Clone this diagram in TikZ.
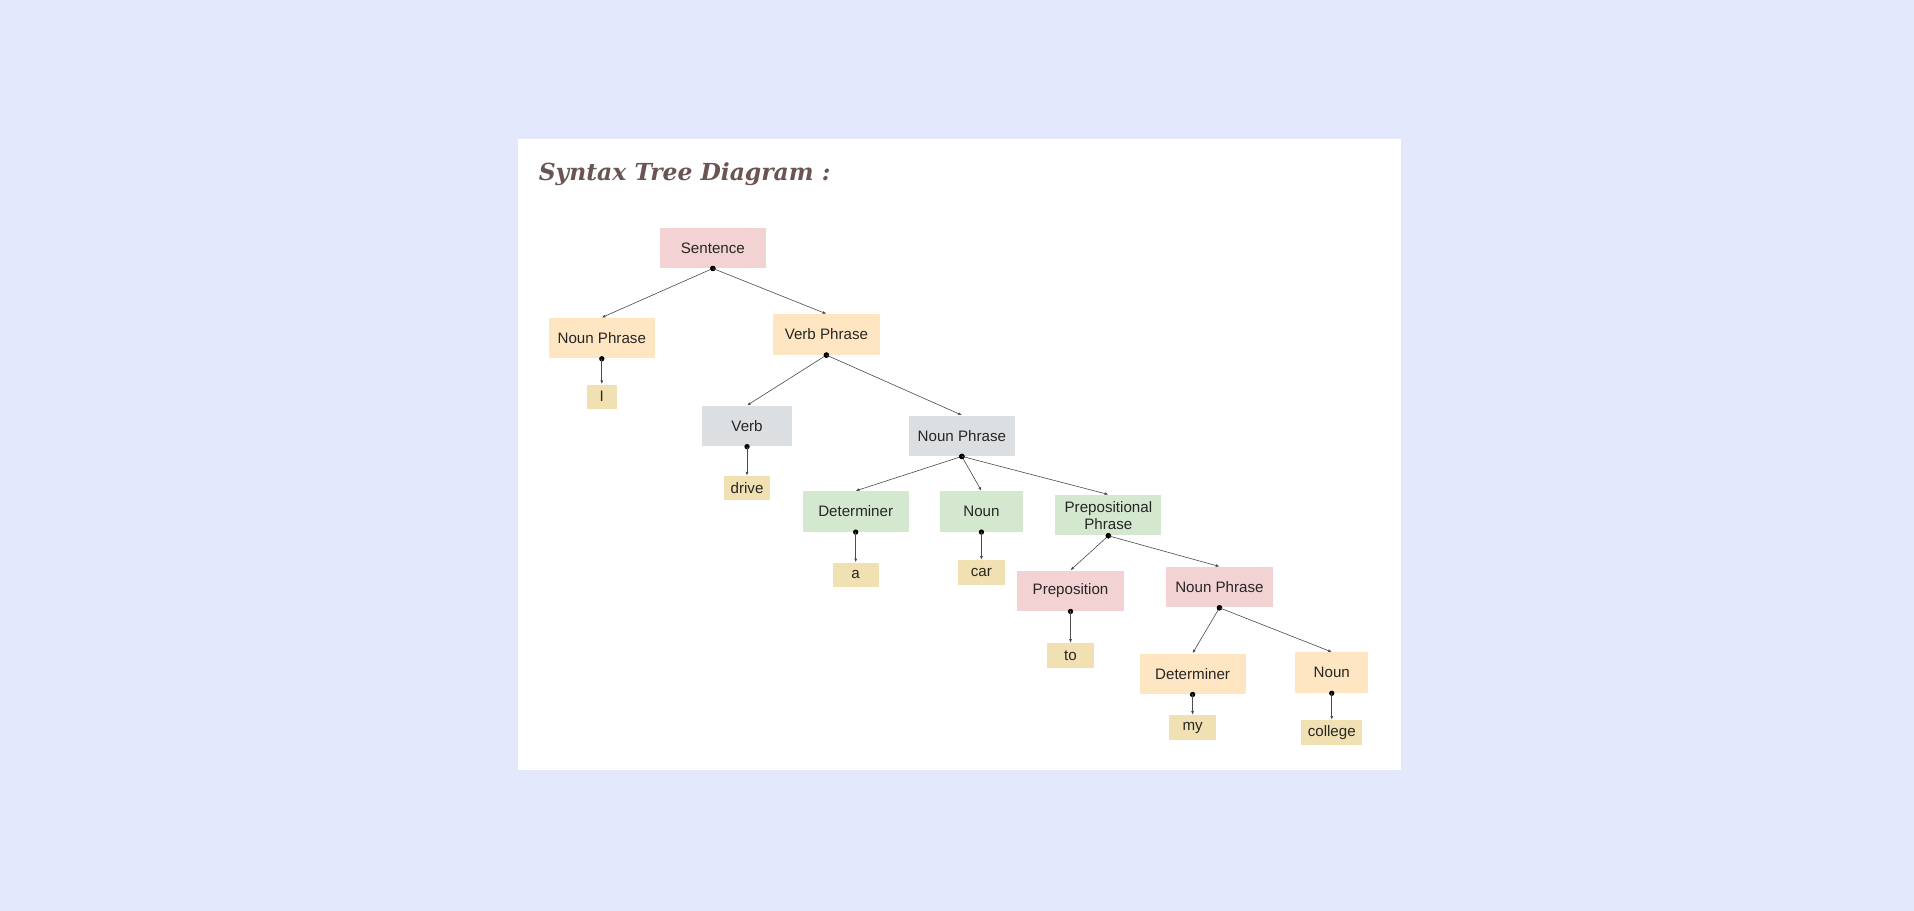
\documentclass[tikz,border=0pt]{standalone}
\usepackage{fontspec}
\setmainfont{Liberation Sans}
\newfontfamily\titlefont{DejaVu Serif}
\usetikzlibrary{arrows.meta}
\definecolor{bgblue}{HTML}{E3E8FC}
\definecolor{cpink}{HTML}{F2D2D2}
\definecolor{cyellow}{HTML}{FFE6C2}
\definecolor{ctan}{HTML}{F1E0B2}
\definecolor{cgray}{HTML}{DCDFE2}
\definecolor{cgreen}{HTML}{D4E7CF}
\definecolor{ctitle}{HTML}{6B5554}
\tikzset{
  box/.style={minimum width=43.5pt, minimum height=16.5pt, inner sep=0pt, align=center,
    font=\fontsize{6.2}{7}\selectfont, text=black!85},
  leaf/.style={minimum width=19pt, minimum height=10pt, inner sep=0pt, fill=ctan,
    font=\fontsize{6.2}{7}\selectfont, text=black!85},
  link/.style={draw=black!70, line width=0.25pt, -{Latex[length=1.5pt,width=1.2pt]}}
}
\begin{document}
\begin{tikzpicture}[x=0.5pt,y=-0.5pt]
\fill[bgblue] (0,0) rectangle (1568,746);
\fill[white] (424,114) rectangle (1148,631);
\node[anchor=west, inner sep=0pt, text=ctitle, font=\titlefont\itshape\bfseries\fontsize{9.6}{11}\selectfont] (title) at (441,143) {Syntax Tree Diagram :};
% phrase boxes
\node[box, fill=cpink] (s) at (584,203) {Sentence};
\node[box, fill=cyellow] (np1) at (493,277) {Noun Phrase};
\node[box, fill=cyellow] (vp) at (677,274) {Verb Phrase};
\node[box, fill=cgray, minimum width=37pt] (v) at (612,349) {Verb};
\node[box, fill=cgray] (np2) at (788,357) {Noun Phrase};
\node[box, fill=cgreen] (det1) at (701,419) {Determiner};
\node[box, fill=cgreen, minimum width=34pt] (n1) at (804,419) {Noun};
\node[box, fill=cgreen] (pp) at (908,422) {Prepositional\\Phrase};
\node[box, fill=cpink] (prep) at (877,484) {Preposition};
\node[box, fill=cpink] (np3) at (999,481) {Noun Phrase};
\node[box, fill=cyellow] (det2) at (977,552) {Determiner};
\node[box, fill=cyellow, minimum width=30pt] (n2) at (1091,551) {Noun};
% words
\node[leaf, minimum width=12.5pt] (wi) at (493,325) {I};
\node[leaf] (wdrive) at (612,400) {drive};
\node[leaf] (wa) at (701,471) {a};
\node[leaf] (wcar) at (804,469) {car};
\node[leaf] (wto) at (877,537) {to};
\node[leaf] (wmy) at (977,596) {my};
\node[leaf, minimum width=25pt] (wcollege) at (1091,600) {college};
% links
\foreach \p/\c in {s/np1,s/vp,np1/wi,vp/v,vp/np2,v/wdrive,np2/det1,np2/n1,np2/pp,
  det1/wa,n1/wcar,pp/prep,pp/np3,prep/wto,np3/det2,np3/n2,det2/wmy,n2/wcollege}{
  \fill (\p.south) circle (2.2);
  \draw[link] (\p.south) -- (\c.north);
}
\end{tikzpicture}
\end{document}
